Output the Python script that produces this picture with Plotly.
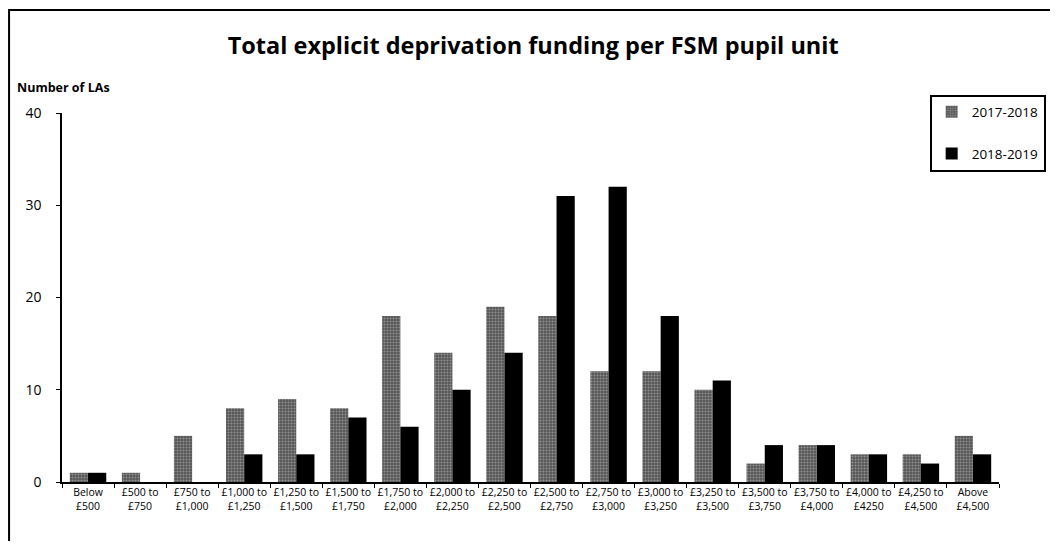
import plotly.graph_objects as go

# Funding bands (tick labels)
bands = ['Below<br>£500', '£500 to<br>£750', '£750 to<br>£1,000', '£1,000 to<br>£1,250',
         '£1,250 to<br>£1,500', '£1,500 to<br>£1,750', '£1,750 to<br>£2,000', '£2,000 to<br>£2,250',
         '£2,250 to<br>£2,500', '£2,500 to<br>£2,750', '£2,750 to<br>£3,000', '£3,000 to<br>£3,250',
         '£3,250 to<br>£3,500', '£3,500 to<br>£3,750', '£3,750 to<br>£4,000', '£4,000 to<br>£4250',
         '£4,250 to<br>£4,500', 'Above<br>£4,500']

# Number of LAs in each band
las_2017_18 = [1, 1, 5, 8, 9, 8, 18, 14, 19, 18, 12, 12, 10, 2, 4, 3, 3, 5]
las_2018_19 = [1, 0, 0, 3, 3, 7, 6, 10, 14, 31, 32, 18, 11, 4, 4, 3, 2, 3]

fig = go.Figure()
fig.add_trace(go.Bar(x=bands, y=las_2017_18, name='2017-2018', legendgroup='a',
                     marker=dict(color='#7a7a7a', line=dict(width=0),
                                 pattern=dict(shape='.', fgcolor='#d0d0d0', bgcolor='#555555',
                                              size=3, solidity=0.35))))
fig.add_trace(go.Bar(x=bands, y=las_2018_19, name='2018-2019', legendgroup='b',
                     marker=dict(color='#000000', line=dict(width=0))))

fig.update_layout(
    width=1042, height=533,
    margin=dict(l=54, r=51, t=105, b=59, autoexpand=False),
    paper_bgcolor='white', plot_bgcolor='white',
    font=dict(family='Open Sans, sans-serif', color='black'),
    title=dict(text='<b>Total explicit deprivation funding per FSM pupil unit</b>',
               x=0.504, xanchor='center', y=0.929, yanchor='middle',
               font=dict(size=23.5, color='black')),
    barmode='group', bargap=0.3, bargroupgap=0,
    showlegend=True,
    legend=dict(x=0.926, y=1.05, xanchor='left', yanchor='top',
                bordercolor='black', borderwidth=2, bgcolor='white',
                font=dict(size=13.5), tracegroupgap=21, itemsizing='constant',
                traceorder='grouped', itemwidth=30),
    annotations=[dict(text='<b>Number of LAs</b>', xref='paper', yref='paper',
                      x=-0.05, y=1.07, xanchor='left', yanchor='middle',
                      showarrow=False, font=dict(size=12.5))],
    shapes=[dict(type='rect', xref='paper', yref='paper',
                 x0=-0.0565, x1=1.2, y0=-0.3, y1=1.279,
                 line=dict(color='black', width=2), layer='below')],
)
fig.update_xaxes(showline=True, linecolor='black', linewidth=1.5,
                 ticks='outside', tickson='boundaries', ticklen=4, tickcolor='black',
                 tickfont=dict(size=10.5), tickangle=0, showgrid=False)
fig.update_yaxes(range=[0, 40], dtick=10, showline=True, linecolor='black', linewidth=1.5,
                 ticks='outside', ticklen=4, tickcolor='black', showgrid=False,
                 zeroline=False, tickfont=dict(size=14), ticklabelstandoff=12)

fig.write_html('out.html')
